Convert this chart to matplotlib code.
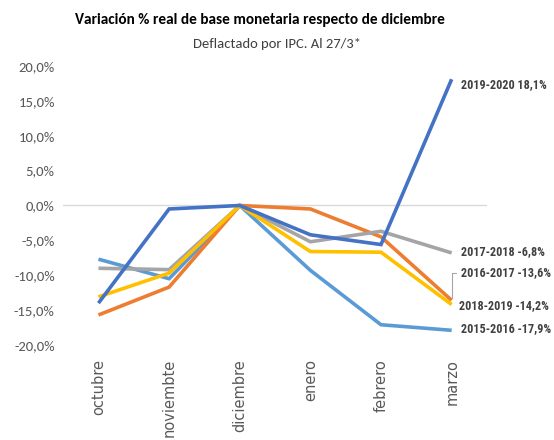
import matplotlib.pyplot as plt
from matplotlib.ticker import FuncFormatter
from matplotlib import font_manager

meses = ["octubre", "noviembte", "diciembre", "enero", "febrero", "marzo"]

s2015 = [-7.7, -10.5, 0.0, -9.3, -17.1, -17.9]
s2016 = [-15.7, -11.7, 0.0, -0.5, -4.5, -13.6]
s2017 = [-9.0, -9.2, 0.0, -5.2, -3.7, -6.8]
s2018 = [-13.1, -9.7, 0.0, -6.6, -6.7, -14.2]
s2019 = [-14.0, -0.5, 0.0, -4.2, -5.6, 18.1]

series = [
    ("2015-2016", s2015, "#5B9BD5"),
    ("2016-2017", s2016, "#ED7D31"),
    ("2017-2018", s2017, "#A5A5A5"),
    ("2018-2019", s2018, "#FFC000"),
    ("2019-2020", s2019, "#4472C4"),
]

# label offsets (points) from the last point
offs = {"2015-2016": (7, 1), "2016-2017": (7, 20), "2017-2018": (7, 1),
        "2018-2019": (5, -1), "2019-2020": (7, -4)}

installed = {f.name for f in font_manager.fontManager.ttflist}
def first(*fams):
    for fam in fams:
        if fam in installed:
            return fam
    return "DejaVu Sans"

cond = first("Roboto Condensed", "Barlow Condensed", "Archivo Narrow", "Asap Condensed")
calib = first("Carlito", "Lato")

fig = plt.figure(figsize=(5.54, 4.4), dpi=100)
ax = fig.add_axes([0.114, 0.216, 0.765, 0.634])

x = range(len(meses))
for name, vals, col in series:
    ax.plot(x, vals, color=col, lw=2.6, solid_capstyle="butt", solid_joinstyle="miter")
    last = vals[-1]
    txt = f"{name} {last:.1f}%".replace(".", ",")
    dx, dy = offs[name]
    kw = dict(xytext=(dx, dy), textcoords="offset points", fontsize=8.7,
              fontweight="bold", family=cond, color="#404040", va="center")
    if name == "2016-2017":
        kw["arrowprops"] = dict(arrowstyle="-", color="#A5A5A5", lw=0.8,
                                shrinkA=2, shrinkB=2,
                                connectionstyle="angle,angleA=0,angleB=90,rad=0")
    ax.annotate(txt, (x[-1], last), **kw)

ax.axhline(0, color="#D9D9D9", lw=1, zorder=0)
ax.set_xlim(-0.5, 5.5)
ax.set_ylim(-20, 20)
ax.set_yticks(range(-20, 21, 5))
ax.yaxis.set_major_formatter(FuncFormatter(lambda v, p: f"{v:.1f}%".replace(".", ",")))
ax.set_xticks(list(x))
ax.set_xticklabels(meses, rotation=90, va="top", ha="center")
for lab in ax.get_yticklabels():
    lab.set_family(calib)
    lab.set_fontsize(10.5)
    lab.set_color("#595959")
for lab in ax.get_xticklabels():
    lab.set_fontsize(10.5)
    lab.set_color("#595959")
ax.tick_params(length=0, pad=6)
ax.tick_params(axis="x", pad=10)
for sp in ax.spines.values():
    sp.set_visible(False)

fig.text(0.47, 0.955, "Variación % real de base monetaria respecto de diciembre",
         ha="center", va="center", fontsize=11, fontweight="bold", family=calib)
fig.text(0.5, 0.9, "Deflactado por IPC. Al 27/3*", ha="center", va="center",
         fontsize=10.5, color="#404040", family=calib)

fig.savefig("out.png", dpi=100)
